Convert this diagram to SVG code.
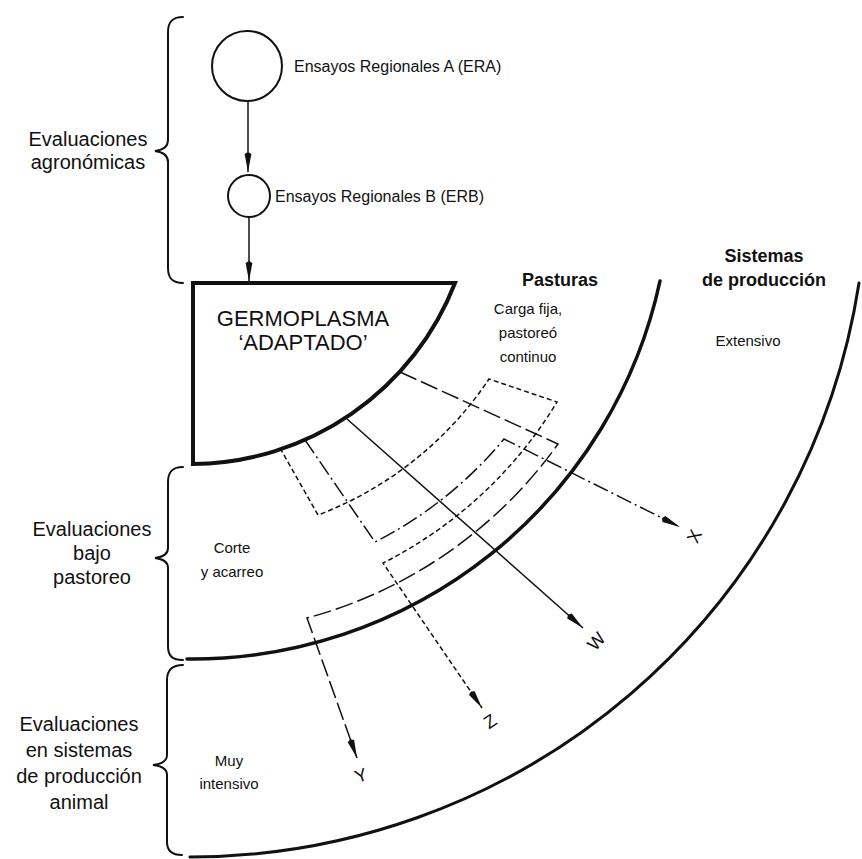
<svg xmlns="http://www.w3.org/2000/svg" width="862" height="859" viewBox="0 0 862 859">
<style>
text{font-family:"Liberation Sans",Arial,sans-serif;fill:#111}
.lbl{font-size:20px;text-anchor:middle}
.sm{font-size:15px;text-anchor:middle}
.en{font-size:16px}
.hd{font-size:18px;font-weight:bold;text-anchor:middle}
.gm{font-size:22px;text-anchor:middle}
.let{font-size:18px;text-anchor:middle}
.br{fill:none;stroke:#111;stroke-width:2;stroke-linecap:round}
.ln{fill:none;stroke:#111;stroke-width:1.5}
.x{stroke-dasharray:16 4 2 4}
.y{stroke-dasharray:18 5}
.z{stroke-dasharray:5 3}
.arc{fill:none;stroke:#111;stroke-linecap:round}
.nd{fill:none;stroke:#111;stroke-width:2}
</style>
<defs>
<marker id="ah" viewBox="0 0 20 8" refX="20" refY="4" markerWidth="20" markerHeight="8" markerUnits="userSpaceOnUse" orient="auto">
<path d="M0,4 L2,0.6 L20,4 L2,7.4 z" fill="#111"/>
</marker>
</defs>

<g id="brace-agronomicas">
<path class="br" d="M183,17 C172,17 168,22 168,32 L168,140 C168,146 163,150 155,151 C163,152 168,156 168,162 L168,268 C168,278 172,283 183,283"/>
<text class="lbl" x="88" y="146">Evaluaciones</text>
<text class="lbl" x="88" y="169">agronómicas</text>
</g>
<g id="brace-pastoreo">
<path class="br" d="M183,467 C172,467 168,472 168,482 L168,548 C168,554 163,557 155,558 C163,559 168,562 168,568 L168,646 C168,656 172,660 183,660"/>
<text class="lbl" x="92" y="536">Evaluaciones</text>
<text class="lbl" x="92" y="560">bajo</text>
<text class="lbl" x="92" y="584">pastoreo</text>
</g>
<g id="brace-sistemas">
<path class="br" d="M183,665 C172,665 167,670 167,680 L167,755 C167,761 162,764 153,765 C162,766 167,769 167,775 L167,842 C167,851 172,855 182,855"/>
<text class="lbl" x="79" y="731">Evaluaciones</text>
<text class="lbl" x="79" y="757">en sistemas</text>
<text class="lbl" x="79" y="783">de producción</text>
<text class="lbl" x="79" y="809">animal</text>
</g>

<g id="era">
<circle class="nd" cx="247" cy="66" r="35"/>
<text class="en" x="294" y="72">Ensayos Regionales A (ERA)</text>
</g>
<g id="erb">
<circle class="nd" cx="249" cy="196" r="21"/>
<text class="en" x="275" y="202">Ensayos Regionales B (ERB)</text>
</g>

<g id="germoplasma">
<path d="M193,283 L455,283 A284,284 0 0 1 193,464 Z" fill="#fff" stroke="#111" stroke-width="4" stroke-linejoin="miter"/>
<text class="gm" x="303" y="326">GERMOPLASMA</text>
<text class="gm" x="303" y="350">‘ADAPTADO’</text>
</g>

<g id="pasturas">
<path class="arc" stroke-width="3.5" d="M660,281 A479,479 0 0 1 187,659"/>
<text class="hd" x="560" y="286">Pasturas</text>
<text class="sm" x="528" y="314">Carga fija,</text>
<text class="sm" x="528" y="338">pastoreó</text>
<text class="sm" x="528" y="362">continuo</text>
<text class="sm" x="232" y="553">Corte</text>
<text class="sm" x="232" y="577">y acarreo</text>
</g>

<g id="sistemas">
<path class="arc" stroke-width="3" d="M859,283 A677,677 0 0 1 190,857"/>
<text class="hd" x="764" y="262">Sistemas</text>
<text class="hd" x="764" y="286">de producción</text>
<text class="sm" x="748" y="346">Extensivo</text>
<text class="sm" x="229" y="766">Muy</text>
<text class="sm" x="229" y="789">intensivo</text>
</g>

<g id="connectors">
<line class="ln" x1="248" y1="101" x2="248" y2="172" marker-end="url(#ah)"/>
<line class="ln" x1="249" y1="217" x2="249" y2="281" marker-end="url(#ah)"/>
<path id="path-w" class="ln" d="M347,419 L583,628" marker-end="url(#ah)"/>
<path id="path-x" class="ln x" d="M305,440 L375,542 A407,407 0 0 0 504,439 L680,527" marker-end="url(#ah)"/>
<path id="path-y" class="ln y" d="M400,372 L558,444 A453,453 0 0 1 307,618 L357,758" marker-end="url(#ah)"/>
<path id="path-z" class="ln z" d="M280,448 L318,515 A359,359 0 0 0 489,379 L557,402 A429,429 0 0 1 383,563 L482,708" marker-end="url(#ah)"/>
</g>

<g id="labels">
<text class="let" transform="translate(694,536) rotate(-64)" x="0" y="6.5">X</text>
<text class="let" transform="translate(596,641) rotate(-48)" x="0" y="6.5">W</text>
<text class="let" transform="translate(490,721) rotate(-34)" x="0" y="6.5">Z</text>
<text class="let" transform="translate(361,775) rotate(-20)" x="0" y="6.5">Y</text>
</g>
</svg>
